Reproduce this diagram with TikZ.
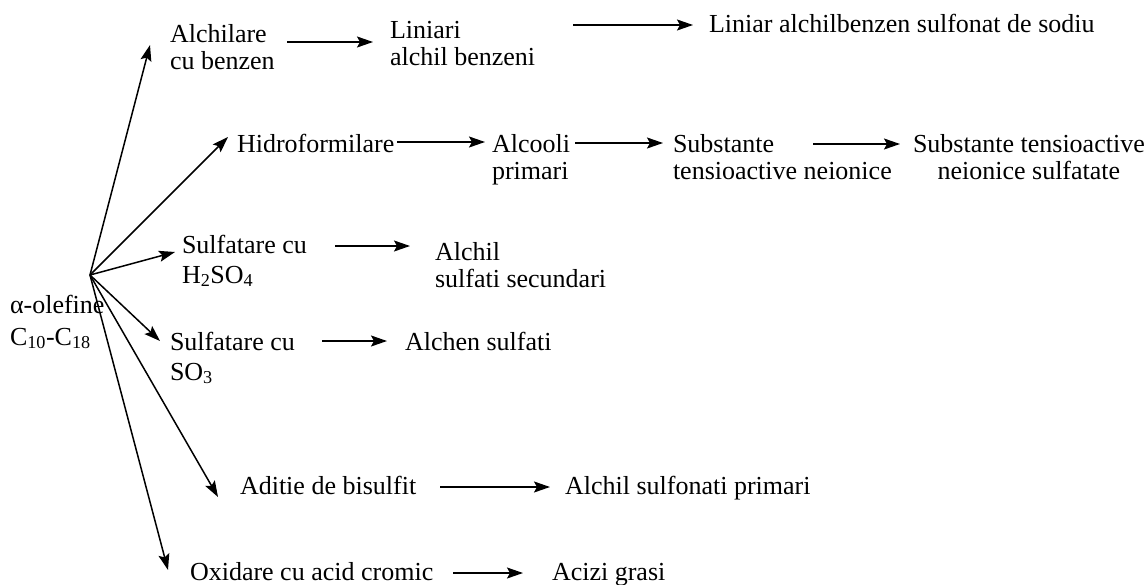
\documentclass[tikz,border=0pt]{standalone}
\usepackage{fontspec}
\setmainfont{Liberation Serif}
\usetikzlibrary{arrows.meta}
\tikzset{
  lbl/.style={anchor=base west, inner sep=0pt, outer sep=0pt, align=left, font=\fontsize{26}{27}\selectfont},
  lblsub/.style={lbl, font=\fontsize{26}{30}\selectfont},
  lblc/.style={lbl, align=center},
  arr/.style={line width=1.5pt, -{Stealth[length=16pt,width=11pt,inset=3pt]}}
}
\begin{document}
\begin{tikzpicture}[x=1pt,y=-1pt]
\useasboundingbox (0,0) rectangle (1146,584);
% text nodes (multi-line nodes are placed at the baseline of their last line)
\node[lbl, font=\fontsize{26}{32}\selectfont] (olef) at (10,345) {α-olefine\\C\textsubscript{10}-C\textsubscript{18}};
\node[lbl] (alk) at (170,69) {Alchilare\\cu benzen};
\node[lbl] (lin) at (390,65) {Liniari\\alchil benzeni};
\node[lbl] (lab) at (709,32) {Liniar alchilbenzen sulfonat de sodiu};
\node[lbl] (hid) at (237,152) {Hidroformilare};
\node[lbl] (alc) at (492,179) {Alcooli\\primari};
\node[lbl] (sub) at (673,179) {Substante\\tensioactive neionice};
\node[lblc] (sts) at (913,179) {Substante tensioactive\\neionice sulfatate};
\node[lblsub] (s1) at (182,283) {Sulfatare cu\\H\textsubscript{2}SO\textsubscript{4}};
\node[lbl] (asec) at (435,287) {Alchil\\sulfati secundari};
\node[lblsub] (s2) at (170,380) {Sulfatare cu\\SO\textsubscript{3}};
\node[lbl] (alsf) at (405,350) {Alchen sulfati};
\node[lbl] (adb) at (240,494) {Aditie de bisulfit};
\node[lbl] (asp) at (565,494) {Alchil sulfonati primari};
\node[lbl] (oxc) at (190,580) {Oxidare cu acid cromic};
\node[lbl] (acg) at (552,580) {Acizi grasi};
% connector end points
\coordinate (hub) at (90,275);
\coordinate (t1) at (150,45);
\coordinate (t2) at (228,137);
\coordinate (t3) at (175,252);
\coordinate (t4) at (160,341);
\coordinate (t5) at (218,497);
\coordinate (t6) at (168,570);
\coordinate (a1s) at (287,42);  \coordinate (a1e) at (373,42);
\coordinate (a2s) at (573,25);  \coordinate (a2e) at (693,25);
\coordinate (a3s) at (397,142); \coordinate (a3e) at (485,142);
\coordinate (a4s) at (575,143); \coordinate (a4e) at (663,143);
\coordinate (a5s) at (813,144); \coordinate (a5e) at (900,144);
\coordinate (a6s) at (335,246); \coordinate (a6e) at (410,246);
\coordinate (a7s) at (322,341); \coordinate (a7e) at (387,341);
\coordinate (a8s) at (440,487); \coordinate (a8e) at (550,487);
\coordinate (a9s) at (453,573); \coordinate (a9e) at (523,573);
% connectors
\foreach \t in {t1,t2,t3,t4,t5,t6} \draw[arr] (hub) -- (\t);
\foreach \i in {1,...,9} \draw[arr] (a\i s) -- (a\i e);
\end{tikzpicture}
\end{document}
